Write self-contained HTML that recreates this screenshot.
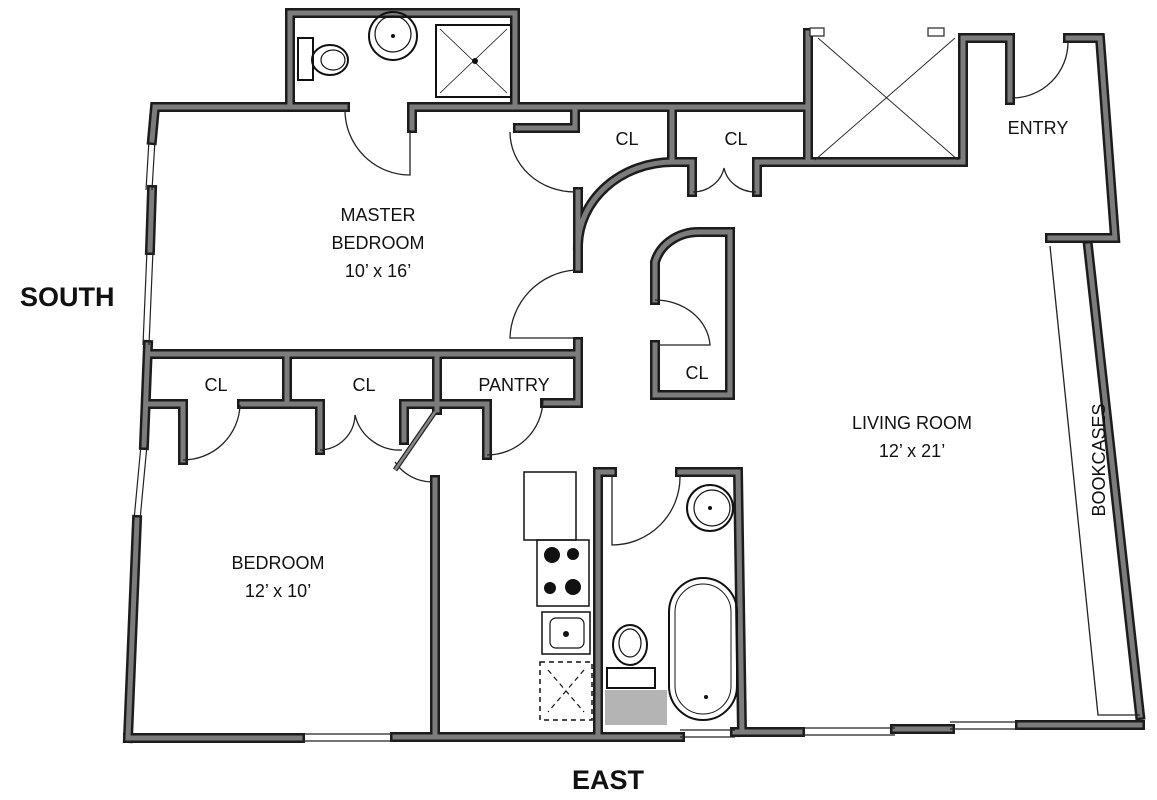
<!DOCTYPE html>
<html><head><meta charset="utf-8"><style>
html,body{margin:0;padding:0;background:#fff}
svg{display:block}
text{font-family:"Liberation Sans",Arial,sans-serif;fill:#111}
</style></head><body>
<svg width="1157" height="800" viewBox="0 0 1157 800" xmlns="http://www.w3.org/2000/svg">
<defs>
<g id="walls" fill="none" stroke-linecap="square" stroke-linejoin="miter">
  <path d="M290 102 V13 H515 V102"/>
  <path d="M345 107 H155 L152 140"/>
  <path d="M412 128 V107 H808"/>
  <path d="M575 107 V128 H518"/>
  <path d="M152 190 L150 250"/>
  <path d="M148 345 L144 445"/>
  <path d="M137 520 L128 738"/>
  <path d="M148 354 H578 V342"/>
  <path d="M578 192 V268"/>
  <path d="M287 354 V403"/>
  <path d="M437 354 V410"/>
  <path d="M578 354 V403 H545"/>
  <path d="M150 404 H183 V460"/>
  <path d="M242 404 H320 V450"/>
  <path d="M404 404 H487 V455"/>
  <path d="M404 404 V440"/>
  <path d="M578 245 A95 85 0 0 1 672 162"/>
  <path d="M672 107 V162 H692 V192"/>
  <path d="M757 192 V162 H962"/>
  <path d="M808 33 V162"/>
  <path d="M963 38 V162"/>
  <path d="M963 38 H1010 V100"/>
  <path d="M1068 38 H1100 L1115 238 H1050"/>
  <path d="M1088 246 L1140 715"/>
  <path d="M128 738 H300"/>
  <path d="M395 737 H680"/>
  <path d="M735 732 H800"/>
  <path d="M895 729 H950"/>
  <path d="M1020 725 H1140"/>
  <path d="M435 480 V735"/>
  <path d="M598 472 V732"/>
  <path d="M598 472 H612"/>
  <path d="M680 472 H738 L742 732"/>
  <path d="M655 300 V262 A45 40 0 0 1 700 232 H730 V395 H655 V345"/>
</g>
</defs>
<use href="#walls" stroke="#1c1c1c" stroke-width="10"/>
<use href="#walls" stroke="#7c7c7c" stroke-width="5"/>

<g stroke="#222" stroke-width="1.2" fill="#fff">
  <path d="M149 140 L146 190 M155 140 L152 190"/>
  <path d="M147 250 L143 345 M153 250 L149 345"/>
  <path d="M141 445 L134 520 M147 445 L140 520"/>
  <path d="M300 734 H395 M300 741 H395"/>
  <path d="M680 730 H735 M680 737 H735"/>
  <path d="M800 728 H895 M800 735 H895"/>
  <path d="M950 722 H1020 M950 729 H1020"/>
  <rect x="810" y="28" width="14" height="8"/><rect x="928" y="28" width="16" height="8"/>
</g>

<g fill="none" stroke="#222" stroke-width="1.3">
  <path d="M345 110 A65 65 0 0 0 410 175 V130"/>
  <path d="M510 132 A65 60 0 0 0 575 192"/>
  <path d="M575 270 A70 70 0 0 0 510 338 H575"/>
  <path d="M693 192 A32 30 0 0 0 724 168 A32 30 0 0 0 756 192"/>
  <path d="M1068 42 A56 56 0 0 1 1012 98"/>
  <path d="M183 460 A57 57 0 0 0 240 405"/>
  <path d="M320 450 A36 36 0 0 0 355 415 A46 46 0 0 0 402 450"/>
  <path d="M487 455 A56 56 0 0 0 543 400"/>
  <path d="M395 462 A45 45 0 0 0 432 482"/>
  <path d="M655 300 A55 48 0 0 1 710 345 H658"/>
  <path d="M612 475 V545 A68 68 0 0 0 680 476"/>
  <path d="M818 38 L958 160 M955 38 L815 160" stroke-width="0.9"/>
  <path d="M1050 246 L1098 715 H1140" />
</g>
<path d="M435 412 L395 470" stroke="#222" stroke-width="5"/>
<path d="M435 412 L395 470" stroke="#888" stroke-width="2.5"/>

<g fill="none" stroke="#111" stroke-width="2">
  <rect x="298" y="38" width="15" height="42" fill="#fff"/>
  <ellipse cx="330" cy="60" rx="18" ry="15"/><ellipse cx="333" cy="60" rx="12" ry="10" stroke-width="1.2"/>
  <circle cx="393" cy="36" r="24"/><circle cx="393" cy="34" r="18" stroke-width="1.2"/>
  <rect x="436" y="25" width="75" height="72"/>
  <path d="M440 29 L507 93 M507 29 L440 93" stroke-width="0.8"/>
  <rect x="524" y="472" width="52" height="68" stroke-width="1.5"/>
  <rect x="537" y="540" width="52" height="66" stroke-width="1.5"/>
  <rect x="542" y="612" width="48" height="42" stroke-width="1.5"/>
  <rect x="550" y="618" width="34" height="30" rx="6" stroke-width="1.2"/>
  <rect x="540" y="662" width="52" height="58" stroke-dasharray="5 4" stroke-width="1.5"/>
  <path d="M548 670 L584 712 M584 670 L548 712" stroke-dasharray="5 4" stroke-width="1.2"/>
  <circle cx="710" cy="508" r="23"/><circle cx="712" cy="508" r="18" stroke-width="1.2"/>
  <rect x="669" y="578" width="68" height="142" rx="34" stroke-width="2"/>
  <rect x="675" y="584" width="56" height="130" rx="28" stroke-width="1"/>
  <ellipse cx="630" cy="645" rx="17" ry="20"/><ellipse cx="630" cy="643" rx="11" ry="14" stroke-width="1.2"/>
  <rect x="607" y="668" width="48" height="20" stroke-width="2"/>
</g>
<g fill="#111">
  <circle cx="552" cy="555" r="8"/><circle cx="573" cy="554" r="6"/>
  <circle cx="550" cy="588" r="6"/><circle cx="573" cy="587" r="8"/>
  <circle cx="566" cy="634" r="3"/><circle cx="710" cy="508" r="2"/><circle cx="706" cy="697" r="2"/>
  <circle cx="475" cy="61" r="3"/><circle cx="393" cy="36" r="2"/>
</g>
<rect x="605" y="690" width="62" height="35" fill="#b4b4b4"/>

<g font-size="18" text-anchor="middle">
  <text x="378" y="221">MASTER</text>
  <text x="378" y="249">BEDROOM</text>
  <text x="378" y="277">10’ x 16’</text>
  <text x="627" y="145">CL</text>
  <text x="736" y="145">CL</text>
  <text x="1038" y="134">ENTRY</text>
  <text x="216" y="391">CL</text>
  <text x="364" y="391">CL</text>
  <text x="514" y="391">PANTRY</text>
  <text x="697" y="379">CL</text>
  <text x="912" y="429">LIVING ROOM</text>
  <text x="912" y="457">12’ x 21’</text>
  <text x="278" y="569">BEDROOM</text>
  <text x="278" y="597">12’ x 10’</text>
  <text transform="translate(1105 460) rotate(-90)">BOOKCASES</text>
</g>
<text x="20" y="306" font-size="27" font-weight="bold">SOUTH</text>
<text x="572" y="789" font-size="27" font-weight="bold">EAST</text>
</svg>
</body></html>
